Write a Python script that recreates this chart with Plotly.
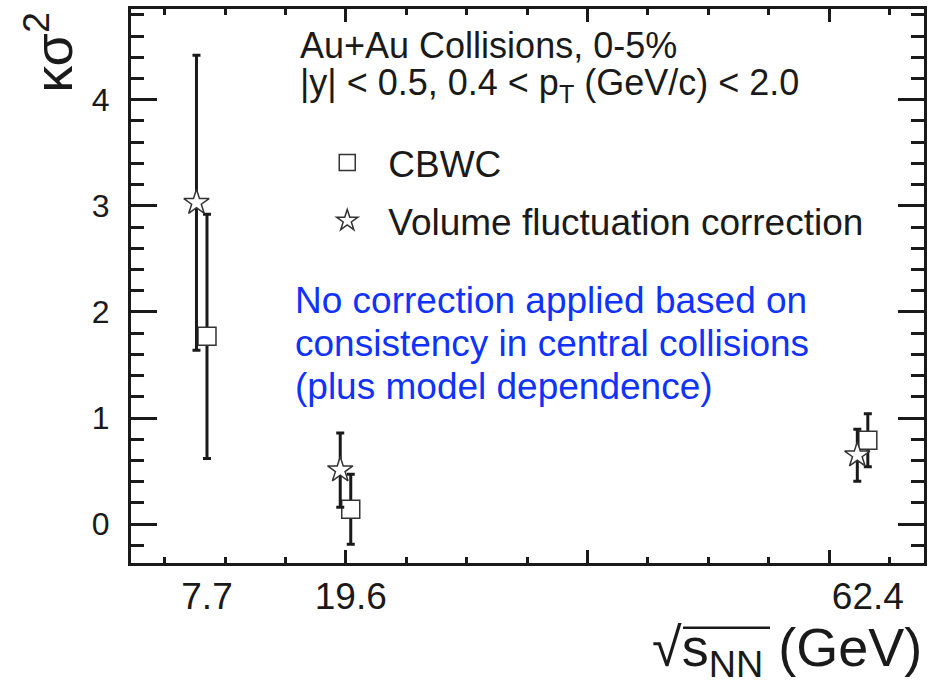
import plotly.graph_objects as go

# ---- data ----
energies = [7.7, 19.6, 62.4]
energy_labels = ["7.7", "19.6", "62.4"]
cbwc_vals = [1.77, 0.14, 0.79]
cbwc_errs = [1.15, 0.33, 0.25]
vfc_vals = [3.03, 0.51, 0.65]
vfc_errs = [1.39, 0.35, 0.245]

series_names = ["CBWC", "Volume fluctuation correction"]
header_lines = ["Au+Au Collisions, 0-5%",
                "|y| < 0.5, 0.4 < p<sub>T</sub> (GeV/c) < 2.0"]
note_lines = ["No correction applied based on",
              "consistency in central collisions",
              "(plus model dependence)"]

STAR_SHIFT = -0.87  # visual offset of the star points
FONT = "Liberation Sans, Arial, Helvetica, sans-serif"
BLACK = "#1a1a1a"

fig = go.Figure()
fig.add_trace(go.Scatter(
    x=energies, y=cbwc_vals, mode="markers", name=series_names[0],
    legendgroup="a",
    marker=dict(symbol="square", size=18, color="white",
                line=dict(color="#333333", width=1.5)),
    error_y=dict(type="data", array=cbwc_errs, visible=True,
                 color=BLACK, thickness=3, width=4),
))
fig.add_trace(go.Scatter(
    x=[e + STAR_SHIFT for e in energies], y=vfc_vals, mode="markers",
    name=series_names[1], legendgroup="b",
    marker=dict(symbol="star", size=19, color="white",
                line=dict(color="#333333", width=1.5)),
    error_y=dict(type="data", array=vfc_errs, visible=True,
                 color=BLACK, thickness=3, width=4),
))
# hidden helper trace on xaxis2 so its tick labels show
fig.add_trace(go.Scatter(x=energies, y=cbwc_vals, xaxis="x2", mode="markers",
                         marker=dict(opacity=0), showlegend=False,
                         hoverinfo="skip"))

fig.update_layout(
    width=940, height=686,
    margin=dict(l=131, r=16, t=6, b=123),
    paper_bgcolor="white", plot_bgcolor="white",
    font=dict(family=FONT, color=BLACK),
    showlegend=True,
    legend=dict(x=0.221, y=0.778, xanchor="left", yanchor="top",
                font=dict(size=37, family=FONT, color=BLACK),
                bgcolor="rgba(0,0,0,0)", itemwidth=72,
                tracegroupgap=7, traceorder="grouped"),
    xaxis=dict(range=[1.41, 67.05], showgrid=False, zeroline=False,
               showline=True, linecolor=BLACK, linewidth=3, mirror="ticks",
               ticks="inside", tickmode="linear", tick0=19.2, dtick=20,
               ticklen=13, tickwidth=3, tickcolor=BLACK,
               showticklabels=False,
               minor=dict(ticks="inside", tick0=19.2, dtick=5, ticklen=6,
                          tickwidth=3, tickcolor=BLACK, showgrid=False)),
    xaxis2=dict(overlaying="x", matches="x", anchor="y", side="bottom",
                showgrid=False, zeroline=False, showline=False, ticks="",
                tickmode="array", tickvals=energies, ticktext=energy_labels,
                tickfont=dict(size=37, family=FONT, color=BLACK),
                ticklabelstandoff=8),
    yaxis=dict(range=[-0.366, 4.855], showgrid=False, zeroline=False,
               showline=True, linecolor=BLACK, linewidth=3, mirror="ticks",
               ticks="inside", tickmode="linear", tick0=0, dtick=1,
               ticklen=26, tickwidth=3, tickcolor=BLACK,
               tickfont=dict(size=32, family=FONT, color=BLACK),
               ticklabelstandoff=12,
               minor=dict(ticks="inside", tick0=0, dtick=0.2, ticklen=13,
                          tickwidth=3, tickcolor=BLACK, showgrid=False)),
)

annotations = []
# header text
header_y = [0.934, 0.862]
for line, yy in zip(header_lines, header_y):
    annotations.append(dict(text=line, xref="paper", yref="paper", x=0.2106,
                            y=yy, xanchor="left", yanchor="middle",
                            showarrow=False,
                            font=dict(size=36, family=FONT, color=BLACK)))
# blue note
note_y = [0.4745, 0.397, 0.3178]
for line, yy in zip(note_lines, note_y):
    annotations.append(dict(text=line, xref="paper", yref="paper", x=0.2043,
                            y=yy, xanchor="left", yanchor="middle",
                            showarrow=False,
                            font=dict(size=37, family=FONT, color="#0f32ff")))
# y-axis title
annotations.append(dict(text="κσ<sup>2</sup>", xref="paper", yref="paper",
                        x=-0.1034, y=0.921, xanchor="center", yanchor="middle",
                        textangle=-90, showarrow=False,
                        font=dict(size=54, family=FONT, color=BLACK)))
# x-axis title
annotations.append(dict(
    text="√s<sub>NN</sub> (GeV)",
    xref="paper", yref="paper", x=1.0, y=-0.158, xanchor="right",
    yanchor="middle", showarrow=False,
    font=dict(size=54, family=FONT, color=BLACK)))
fig.update_layout(annotations=annotations)

# overbar of the square-root sign in the x-axis title
fig.add_shape(type="line", xref="paper", yref="paper",
              x0=0.6961, x1=0.8058, y0=-0.1169, y1=-0.1169,
              line=dict(color=BLACK, width=2.5))

fig.write_html("out.html")
